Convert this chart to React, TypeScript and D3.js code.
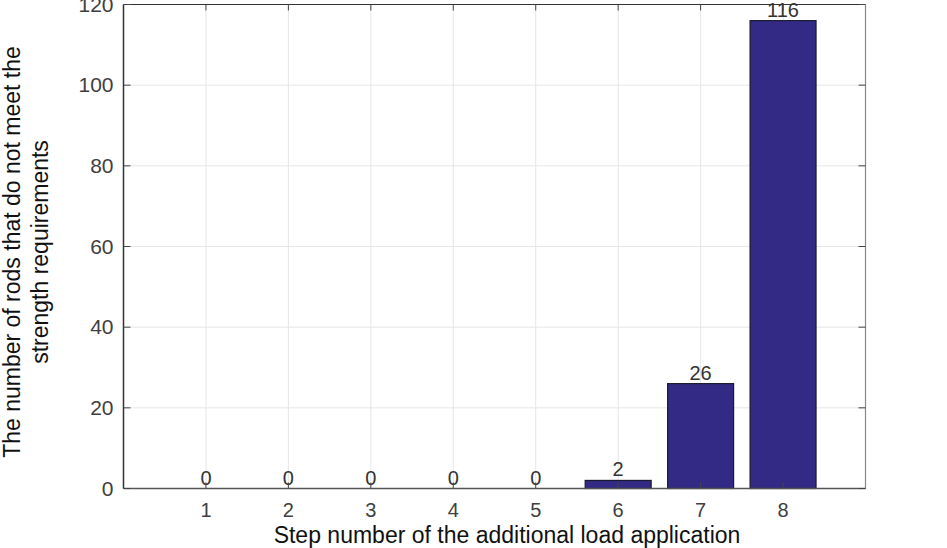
import React from "react";
import * as d3 from "d3";

const categories = [1, 2, 3, 4, 5, 6, 7, 8];
const values = [0, 0, 0, 0, 0, 2, 26, 116];
const yTicks = [0, 20, 40, 60, 80, 100, 120];
const yLabelLines = ["The number of rods that do not meet the", "strength requirements"];
const xLabel = "Step number of the additional load application";

const W = 947, H = 548;
const left = 123.5, right = 865.5, top = 4.5, bottom = 488.5;
const font = "'Liberation Sans', Arial, Helvetica, sans-serif";

export default function App() {
  const x = d3.scaleLinear().domain([0, 9]).range([left, right]);
  const y = d3.scaleLinear().domain([0, 120]).range([bottom, top]);
  const bw = (x(1) - x(0)) * 0.8;
  return (
    <svg width={W} height={H} style={{ position: "absolute", left: 0, top: 0, background: "#fff" }} fontFamily={font}>
      {/* grid */}
      {categories.map((c) => (
        <line key={"gx" + c} x1={x(c)} x2={x(c)} y1={top} y2={bottom} stroke="#e6e6e6" strokeWidth={1} />
      ))}
      {yTicks.map((t) => (
        <line key={"gy" + t} x1={left} x2={right} y1={y(t)} y2={y(t)} stroke="#e6e6e6" strokeWidth={1} />
      ))}
      {/* bars */}
      {values.map((v, i) => (
        <rect key={"b" + i} x={x(categories[i]) - bw / 2} width={bw} y={y(v)} height={Math.max(0, y(0) - y(v))}
          fill="#332a85" stroke="#1a1a2e" strokeWidth={1.2} />
      ))}
      {/* value labels */}
      {values.map((v, i) => (
        <text key={"l" + i} x={x(categories[i])} y={y(v) - 4} textAnchor="middle" fontSize={20} fill="#333">{v}</text>
      ))}
      {/* box */}
      <line x1={left} x2={right} y1={top} y2={top} stroke="#333" strokeWidth={1.2} />
      <line x1={right} x2={right} y1={top} y2={bottom} stroke="#888" strokeWidth={1.2} />
      <line x1={left} x2={left} y1={top} y2={bottom} stroke="#333" strokeWidth={1.5} />
      <line x1={left} x2={right} y1={bottom} y2={bottom} stroke="#555" strokeWidth={1.5} />
      {/* ticks */}
      {categories.map((c) => (
        <g key={"tx" + c}>
          <line x1={x(c)} x2={x(c)} y1={bottom} y2={bottom - 6} stroke="#444" />
          <line x1={x(c)} x2={x(c)} y1={top} y2={top + 6} stroke="#444" />
          <text x={x(c)} y={bottom + 28} textAnchor="middle" fontSize={20} fill="#404040">{c}</text>
        </g>
      ))}
      {yTicks.map((t) => (
        <g key={"ty" + t}>
          <line x1={left} x2={left + 7} y1={y(t)} y2={y(t)} stroke="#444" />
          <line x1={right} x2={right - 7} y1={y(t)} y2={y(t)} stroke="#444" />
          <text x={left - 10} y={y(t) + 7} textAnchor="end" fontSize={21} fill="#404040">{t}</text>
        </g>
      ))}
      {/* axis labels */}
      <text x={507} y={543} textAnchor="middle" fontSize={23} fill="#111">{xLabel}</text>
      {yLabelLines.map((s, i) => (
        <text key={"yl" + i} transform={`translate(${20 + i * 28},${252}) rotate(-90)`} textAnchor="middle" fontSize={23} fill="#111">{s}</text>
      ))}
    </svg>
  );
}
